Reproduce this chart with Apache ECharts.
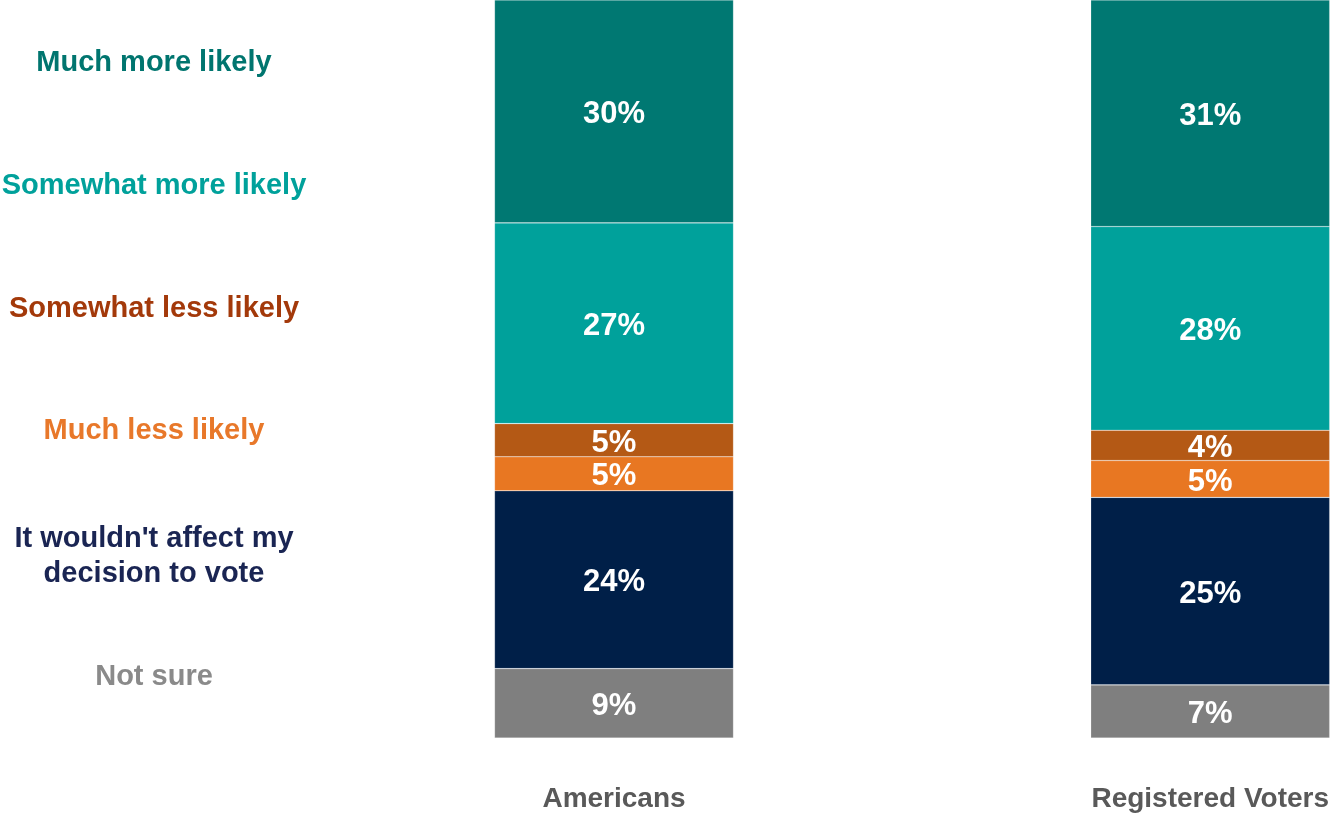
<!DOCTYPE html>
<html>
<head>
<meta charset="utf-8">
<style>
  html, body { margin: 0; padding: 0; background: #ffffff; }
  #chart { width: 1332px; height: 814px; }
</style>
<script src="https://cdn.jsdelivr.net/npm/echarts@6/dist/echarts.min.js"></script>
</head>
<body>
<div id="chart"></div>
<script>
// Categories (x axis)
const categories = ['Americans', 'Registered Voters'];

// Response options, stacked from bottom to top
const seriesNames = [
  'Not sure',
  "It wouldn't affect my\ndecision to vote",
  'Much less likely',
  'Somewhat less likely',
  'Somewhat more likely',
  'Much more likely'
];

// Values (percent) per response: [Americans, Registered Voters]
const notSure          = [9.4, 7.2];
const wouldntAffect    = [24.1, 25.4];
const muchLess         = [4.6, 5.0];
const somewhatLess     = [4.5, 4.1];
const somewhatMore     = [27.2, 27.6];
const muchMore         = [30.2, 30.7];

const seriesValues = [notSure, wouldntAffect, muchLess, somewhatLess, somewhatMore, muchMore];

const barColors  = ['#7F7F7F', '#001F48', '#E87722', '#B45915', '#00A19B', '#007872'];
const textColors = ['#8A8A8A', '#1A2553', '#E8782A', '#A3390A', '#00A19B', '#00756F'];

const FONT = '"Liberation Sans", Arial, sans-serif';

const chart = echarts.init(document.getElementById('chart'), null, { renderer: 'canvas' });

const series = seriesNames.map((name, i) => ({
  name: name,
  type: 'bar',
  stack: 'total',
  barWidth: 239,
  data: seriesValues[i],
  itemStyle: { color: barColors[i], borderColor: 'rgba(255,255,255,0.3)', borderWidth: 0.6 },
  label: {
    show: true,
    position: 'inside',
    color: '#ffffff',
    fontFamily: FONT,
    fontWeight: 'bold',
    fontSize: 31,
    offset: [0, 3],
    formatter: p => Math.round(p.value) + '%'
  },
  emphasis: { disabled: true }
}));

// Left-side legend text, top to bottom
const legendOrder = seriesNames.slice().reverse();
const legendColors = textColors.slice().reverse();
const legendGraphics = legendOrder.map((name, i) => ({
  type: 'text',
  x: 154,
  y: 63 + i * 122.8 + (name.indexOf('\n') >= 0 ? 2 : 0),
  style: {
    text: name,
    align: 'center',
    verticalAlign: 'middle',
    fill: legendColors[i],
    font: 'bold 29px ' + FONT,
    lineHeight: 35
  }
}));

chart.setOption({
  animation: false,
  backgroundColor: '#ffffff',
  grid: { left: 614, right: 118, top: 0, bottom: 76, containLabel: false },
  xAxis: {
    type: 'category',
    data: categories,
    boundaryGap: false,
    axisLine: { show: false },
    axisTick: { show: false },
    splitLine: { show: false },
    axisLabel: {
      margin: 47,
      color: '#595959',
      fontFamily: FONT,
      fontWeight: 'bold',
      fontSize: 28,
      lineHeight: 28
    }
  },
  yAxis: {
    type: 'value',
    min: 0,
    max: 100,
    show: false,
    splitLine: { show: false }
  },
  series: series,
  graphic: legendGraphics
});
</script>
</body>
</html>
